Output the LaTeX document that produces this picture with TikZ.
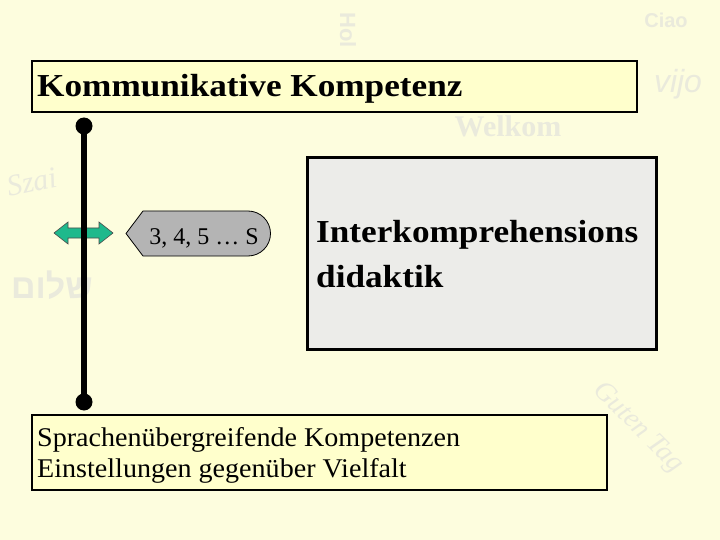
\documentclass[tikz,border=0pt]{standalone}
\usepackage{fontspec}
\setmainfont{Liberation Serif}
\newfontfamily\boldwide[FakeStretch=1.1]{Liberation Serif}
\newfontfamily\regwide[FakeStretch=1.04]{Liberation Serif}
\newfontfamily\hebfont[Script=Hebrew]{Liberation Sans}
\newfontfamily\wmsans{Liberation Sans}
\TeXXeTstate=1
\definecolor{bgyellow}{RGB}{253,253,222}
\definecolor{boxyellow}{RGB}{255,255,204}
\definecolor{boxgray}{RGB}{236,236,233}
\definecolor{callgray}{RGB}{180,180,180}
\definecolor{arrowteal}{RGB}{30,185,140}
\definecolor{wmcol}{RGB}{234,234,220}
\tikzset{
  ybox/.style={draw=black, line width=2.4pt, fill=boxyellow, inner sep=0pt},
  gbox/.style={draw=black, line width=3.2pt, fill=boxgray, inner sep=0pt},
  dotnode/.style={circle, fill=black, minimum size=17pt, inner sep=0pt},
  wm/.style={text=wmcol, inner sep=0pt},
}
\begin{document}
\begin{tikzpicture}[x=1pt,y=-1pt]
\fill[bgyellow] (0,0) rectangle (720,540);
\useasboundingbox (0,0) rectangle (720,540);

% faint background greetings
\node[wm, font=\wmsans\bfseries\fontsize{20}{20}\selectfont] (wm1) at (666,20) {Ciao};
\node[wm, font=\wmsans\itshape\fontsize{32}{32}\selectfont] (wm2) at (678,84) {vijo};
\node[wm, font=\bfseries\fontsize{30}{30}\selectfont] (wm3) at (508,126) {Welkom};
\node[wm, font=\itshape\fontsize{28}{28}\selectfont, rotate=-45] (wm4) at (638,428) {Guten Tag};
\node[wm, font=\wmsans\bfseries\fontsize{22}{22}\selectfont, rotate=-90] (wm5) at (348,30) {Hol};
\node[wm, font=\hebfont\bfseries\fontsize{34}{34}\selectfont] (wm6) at (52,285) {\beginR שלום\endR};
\node[wm, font=\itshape\fontsize{30}{30}\selectfont, rotate=12] (wm7) at (32,182) {Szai};

% title box
\node[ybox, anchor=north west, minimum width=605pt, minimum height=51pt] (title) at (31,60) {};
\node[anchor=base west, inner sep=0pt, font=\boldwide\bfseries\fontsize{32}{38}\selectfont] (titletext) at (37,97) {Kommunikative Kompetenz};

% double arrow
\draw[fill=arrowteal, draw=black!70, line width=0.6pt]
  (54,233) -- (68,222) -- (68,228) -- (99,228) -- (99,222) -- (113,233)
  -- (99,244) -- (99,238) -- (68,238) -- (68,244) -- cycle;

% vertical line with dots
\node[dotnode] (top) at (84,126) {};
\node[dotnode] (bot) at (84,402) {};
\draw[line width=6pt] (top.center) -- (bot.center);

% callout
\draw[fill=callgray, draw=black, line width=0.8pt]
  (126,233.5) -- (143,211) -- (248,211) arc[start angle=-90, end angle=90, radius=22.5]
  -- (143,256) -- cycle;
\node[anchor=base, inner sep=0pt, font=\fontsize{24}{28}\selectfont] (lbl) at (204,244) {3, 4, 5 … S};

% big gray box
\node[gbox, anchor=north west, minimum width=349pt, minimum height=192pt] (didak) at (306,156) {};
\node[anchor=base west, inner sep=0pt, align=left, font=\boldwide\bfseries\fontsize{32}{44}\selectfont] (didtext) at (316,287) {Interkomprehensions\\didaktik};

% bottom box
\node[ybox, anchor=north west, minimum width=575pt, minimum height=75pt] (bottom) at (31,414) {};
\node[anchor=base west, inner sep=0pt, align=left, font=\regwide\fontsize{27}{31}\selectfont] (bottext) at (37,477) {Sprachenübergreifende Kompetenzen\\Einstellungen gegenüber Vielfalt};
\end{tikzpicture}
\end{document}
